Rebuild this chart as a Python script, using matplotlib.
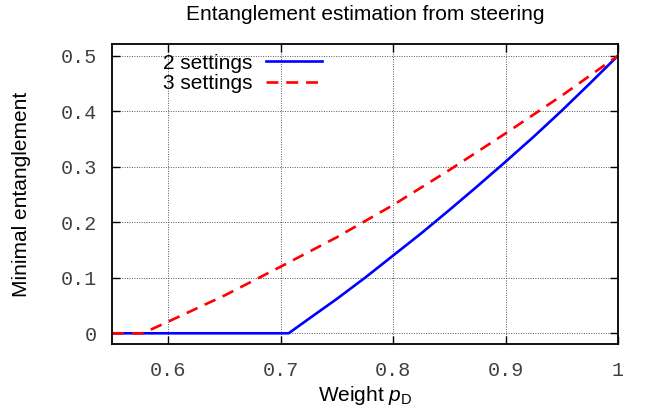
import numpy as np
import matplotlib
matplotlib.use("Agg")
import matplotlib.pyplot as plt

# values
p_two = [0.55, 0.7071, 0.725, 0.75, 0.775, 0.80, 0.825, 0.85, 0.875, 0.90, 0.925, 0.95, 0.975, 1.00]
e_two = [0.0, 0.0, 0.026, 0.062, 0.100, 0.140, 0.180, 0.222, 0.265, 0.309, 0.354, 0.401, 0.450, 0.500]

p_three = [0.55, 0.5774, 0.60, 0.65, 0.70, 0.75, 0.80, 0.85, 0.90, 0.95, 1.00]
e_three = [0.0, 0.0, 0.021, 0.068, 0.120, 0.173, 0.231, 0.294, 0.360, 0.428, 0.500]

x_ticks = [0.6, 0.7, 0.8, 0.9, 1.0]
x_ticklabels = ["0.6", "0.7", "0.8", "0.9", "1"]
y_ticks = [0, 0.1, 0.2, 0.3, 0.4, 0.5]
y_ticklabels = ["0", "0.1", "0.2", "0.3", "0.4", "0.5"]

sans = "Liberation Sans"
mono = "Liberation Mono"
plt.rcParams["mathtext.fontset"] = "custom"
plt.rcParams["mathtext.it"] = "Liberation Sans:italic"
plt.rcParams["mathtext.rm"] = "Liberation Sans"

fig = plt.figure(figsize=(6.6, 4.16), dpi=100)
ax = fig.add_axes([112 / 660, 1 - 344 / 416, (618 - 112) / 660, (344 - 44) / 416])

ax.plot(p_two, e_two, color="#0000ff", lw=1.9, label="2 settings")
ax.plot(p_three, e_three, color="#ff0000", lw=1.9, ls=(0, (4.5, 3)), label="3 settings")

ax.set_xlim(0.55, 1.0)
ax.set_ylim(-0.0193, 0.521)
ax.set_xticks(x_ticks)
ax.set_xticklabels(x_ticklabels, family=mono, fontsize=14.5, color="#404040")
ax.set_yticks(y_ticks)
ax.set_yticklabels(y_ticklabels, family=mono, fontsize=14.5, color="#404040")
ax.tick_params(direction="in", length=6, width=1, top=True, right=True, pad=11)
ax.tick_params(axis="x", pad=12)

ax.grid(True, color="#555555", ls=(0, (1, 1.5)), lw=0.7)
for s in ax.spines.values():
    s.set_linewidth(1.3)

ax.set_title("Entanglement estimation from steering", family=sans, fontsize=15, pad=17)
ax.set_xlabel(r"Weight $p_\mathrm{D}$", family=sans, fontsize=15, labelpad=3)
ax.set_ylabel("Minimal entanglement", family=sans, fontsize=15, labelpad=21)

leg = ax.legend(loc="upper left", bbox_to_anchor=(0.064, 1.03), frameon=False,
                markerfirst=False, handlelength=2.7, handletextpad=0.65,
                labelspacing=0.08, prop={"family": sans, "size": 15})

fig.savefig("out.png", dpi=100)
